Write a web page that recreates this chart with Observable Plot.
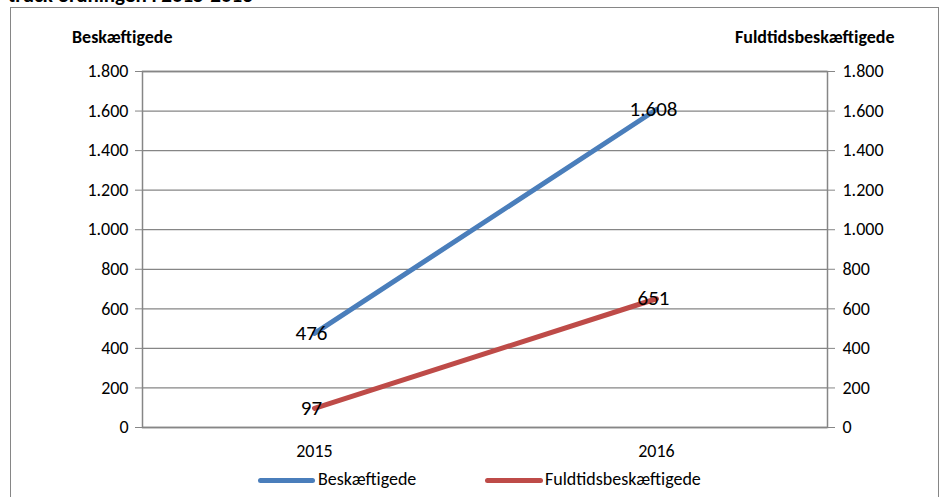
<!DOCTYPE html>
<html>
<head>
<meta charset="utf-8">
<script src="https://cdn.jsdelivr.net/npm/d3@7"></script>
<script src="https://cdn.jsdelivr.net/npm/@observablehq/plot@0.6"></script>
<style>
  html, body { margin: 0; padding: 0; background: #fff; }
  #wrap { position: relative; width: 943px; height: 497px; overflow: hidden; font-family: Carlito, Lato, "Liberation Sans", sans-serif; }
  #wrap svg { position: absolute; left: 0; top: 0; }
  .ov { position: absolute; white-space: nowrap; color: #000; }
  #border { position: absolute; left: 10px; top: 7px; width: 929px; height: 500px; border: 1.5px solid #868686; box-sizing: border-box; }
  .ttl { font-weight: bold; font-size: 18px; }
  .leg { font-size: 18px; }
  .sw { position: absolute; height: 5px; border-radius: 3px; }
</style>
</head>
<body>
<div id="wrap">
  <div id="border"></div>
</div>
<script>
const years = [2015, 2016];
const beskaeftigede = [476, 1608];
const fuldtid = [97, 651];
const yTicks = [0, 200, 400, 600, 800, 1000, 1200, 1400, 1600, 1800];
const seriesNames = ["Beskæftigede", "Fuldtidsbeskæftigede"];
const seriesColors = ["#4A7EBB", "#BE4B48"];
const titleText = "truck ordningen i 2015-2016";

const fmt = d3.formatLocale({decimal: ",", thousands: ".", grouping: [3], currency: ["", ""]}).format(",");

const rows = [];
years.forEach((yr, i) => {
  rows.push({year: yr, value: beskaeftigede[i], series: seriesNames[0]});
  rows.push({year: yr, value: fuldtid[i], series: seriesNames[1]});
});

const chart = Plot.plot({
  width: 943,
  height: 497,
  marginLeft: 142,
  marginRight: 116,
  marginTop: 71,
  marginBottom: 70,
  style: {fontFamily: "Carlito, Lato, 'Liberation Sans', sans-serif", fontSize: "18px", color: "#000", background: "transparent"},
  x: {type: "point", domain: years, padding: 0.5},
  y: {domain: [0, 1800]},
  color: {domain: seriesNames, range: seriesColors},
  marks: [
    Plot.gridY(yTicks, {stroke: "#868686", strokeOpacity: 1, strokeWidth: 1.3}),
    Plot.frame({stroke: "#868686", strokeWidth: 1.5}),
    Plot.axisY(yTicks, {anchor: "left", tickFormat: fmt, tickSize: 7, tickPadding: 7, stroke: "#868686", strokeOpacity: 1, fill: "#000", fontSize: 18, label: null}),
    Plot.axisY(yTicks, {anchor: "right", tickFormat: fmt, tickSize: 7, tickPadding: 8, stroke: "#868686", strokeOpacity: 1, fill: "#000", fontSize: 18, label: null}),
    Plot.axisX({tickSize: 0, tickPadding: 17, tickFormat: d => String(d), fill: "#000", fontSize: 18, label: null}),
    Plot.line(rows, {x: "year", y: "value", z: "series", stroke: "series", strokeWidth: 5, strokeLinecap: "round"}),
    Plot.text(rows, {x: "year", y: "value", text: d => fmt(d.value), dx: -3, fontSize: 21, fill: "#000"})
  ]
});
const wrap = document.getElementById("wrap");
wrap.insertBefore(chart, document.getElementById("border"));

function addDiv(cls, text, css) {
  const d = document.createElement("div");
  d.className = "ov " + cls;
  if (text) d.textContent = text;
  Object.assign(d.style, css);
  wrap.appendChild(d);
  return d;
}
addDiv("", titleText, {left: "8px", top: "-18px", fontWeight: "bold", fontSize: "21px"});
addDiv("ttl", seriesNames[0], {left: "72px", top: "26px"});
addDiv("ttl", seriesNames[1], {left: "735px", top: "26px"});

// legend
const sw1 = document.createElement("div"); sw1.className = "sw";
Object.assign(sw1.style, {left: "258px", top: "478px", width: "57px", background: seriesColors[0]});
wrap.appendChild(sw1);
addDiv("leg", seriesNames[0], {left: "318px", top: "468px"});
const sw2 = document.createElement("div"); sw2.className = "sw";
Object.assign(sw2.style, {left: "485px", top: "478px", width: "58px", background: seriesColors[1]});
wrap.appendChild(sw2);
addDiv("leg", seriesNames[1], {left: "545px", top: "468px"});
</script>
</body>
</html>
